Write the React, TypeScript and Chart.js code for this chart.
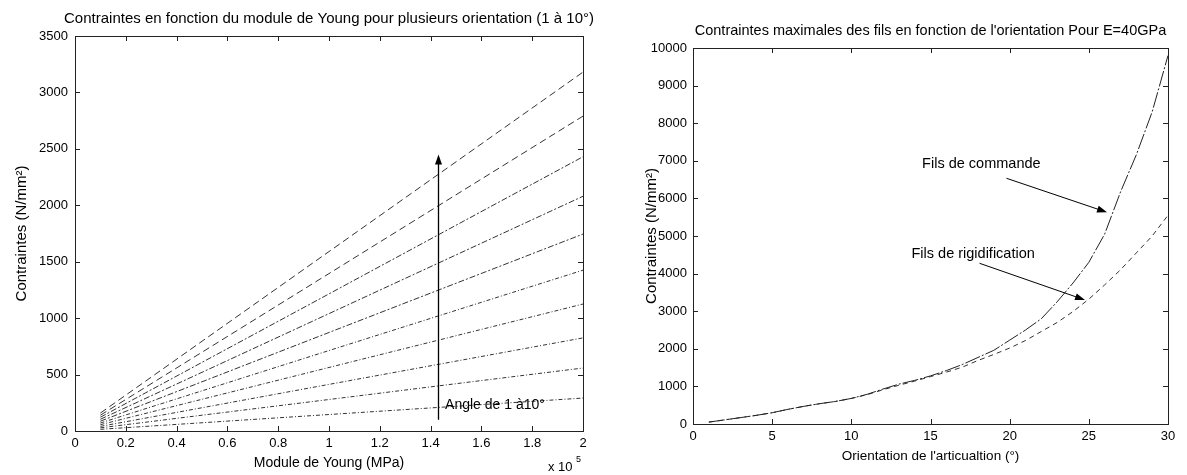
import React, { useEffect, useRef } from "react";
import { Chart, registerables } from "chart.js";

Chart.register(...registerables);

const FONT = '"Liberation Sans", Arial, Helvetica, sans-serif';

// ---------- Left chart data ----------
const youngModulus = [10000, 50000, 100000, 150000, 200000];
const angleLabels = ["1°", "2°", "3°", "4°", "5°", "6°", "7°", "8°", "9°", "10°"];
const stressAngle1 = [15, 73, 146, 219, 292];
const stressAngle2 = [28, 140, 279, 419, 558];
const stressAngle3 = [41, 206, 413, 619, 825];
const stressAngle4 = [56, 281, 563, 844, 1125];
const stressAngle5 = [71, 356, 713, 1069, 1425];
const stressAngle6 = [87, 436, 873, 1309, 1745];
const stressAngle7 = [104, 520, 1040, 1560, 2080];
const stressAngle8 = [122, 608, 1215, 1823, 2430];
const stressAngle9 = [140, 698, 1395, 2093, 2790];
const stressAngle10 = [159, 795, 1590, 2385, 3180];
const leftYTicks = [0, 500, 1000, 1500, 2000, 2500, 3000, 3500];
const leftXTickLabels = ["0", "0.2", "0.4", "0.6", "0.8", "1", "1.2", "1.4", "1.6", "1.8", "2"];

// ---------- Right chart data ----------
const orientationDeg = [1, 2, 3, 4, 5, 6, 7, 8, 9, 10, 11, 12, 13, 14, 15, 16, 17, 18, 19, 20, 21, 22, 23, 24, 25, 26, 27, 28, 29, 30];
const filsCommande = [50, 110, 170, 230, 300, 390, 470, 540, 600, 680, 790, 930, 1060, 1160, 1280, 1420, 1580, 1770, 1960, 2230, 2500, 2800, 3250, 3750, 4300, 5050, 6170, 7160, 8300, 9800];
const filsRigidification = [50, 110, 170, 230, 300, 390, 470, 540, 600, 680, 780, 910, 1030, 1140, 1260, 1380, 1510, 1690, 1850, 2020, 2220, 2460, 2700, 2990, 3320, 3700, 4100, 4550, 5000, 5550];
const rightYTicks = [0, 1000, 2000, 3000, 4000, 5000, 6000, 7000, 8000, 9000, 10000];
const rightXTicks = [0, 5, 10, 15, 20, 25, 30];

// ---------- Annotations (data coordinates) ----------
const angleArrow = { x: 143000, yFrom: 100, yTo: 2450 };
const angleText = { x: 145700, y: 230, text: "Angle de 1 à10°" };
const commandeText = { x: 14.47, y: 6915, text: "Fils de commande" };
const commandeArrow = { x1: 19.8, y1: 6535, x2: 26.15, y2: 5630 };
const rigidText = { x: 13.8, y: 4521, text: "Fils de rigidification" };
const rigidArrow = { x1: 18.1, y1: 4274, x2: 24.76, y2: 3298 };

const leftSeries = [stressAngle1, stressAngle2, stressAngle3, stressAngle4, stressAngle5, stressAngle6, stressAngle7, stressAngle8, stressAngle9, stressAngle10];

function drawArrow(ctx: CanvasRenderingContext2D, x1: number, y1: number, x2: number, y2: number, lw: number) {
  const ang = Math.atan2(y2 - y1, x2 - x1);
  const hl = 10;
  const hw = 3.5;
  ctx.save();
  ctx.strokeStyle = "#000";
  ctx.fillStyle = "#000";
  ctx.lineWidth = lw;
  ctx.beginPath();
  ctx.moveTo(x1, y1);
  ctx.lineTo(x2 - Math.cos(ang) * hl * 0.8, y2 - Math.sin(ang) * hl * 0.8);
  ctx.stroke();
  ctx.beginPath();
  ctx.moveTo(x2, y2);
  ctx.lineTo(x2 - Math.cos(ang) * hl - Math.sin(ang) * hw, y2 - Math.sin(ang) * hl + Math.cos(ang) * hw);
  ctx.lineTo(x2 - Math.cos(ang) * hl + Math.sin(ang) * hw, y2 - Math.sin(ang) * hl - Math.cos(ang) * hw);
  ctx.closePath();
  ctx.fill();
  ctx.restore();
}

function makeOverlay(title: string, titleSize: number, xTitle: string, xTitleSize: number, yTitle: string, extra: (chart: any, ctx: CanvasRenderingContext2D) => void) {
  return {
    id: "overlay",
    afterDraw(chart: any) {
      const ctx: CanvasRenderingContext2D = chart.ctx;
      const a = chart.chartArea;
      const xs = chart.scales.x;
      const ys = chart.scales.y;
      ctx.save();
      ctx.strokeStyle = "#222";
      ctx.lineWidth = 1;
      ctx.strokeRect(Math.round(a.left) + 0.5, Math.round(a.top) + 0.5, Math.round(a.right - a.left), Math.round(a.bottom - a.top));
      ctx.beginPath();
      const tl = 5;
      xs.ticks.forEach((t: any) => {
        const px = Math.round(xs.getPixelForValue(t.value)) + 0.5;
        ctx.moveTo(px, a.bottom);
        ctx.lineTo(px, a.bottom - tl);
        ctx.moveTo(px, a.top);
        ctx.lineTo(px, a.top + tl);
      });
      ys.ticks.forEach((t: any) => {
        const py = Math.round(ys.getPixelForValue(t.value)) + 0.5;
        ctx.moveTo(a.left, py);
        ctx.lineTo(a.left + tl, py);
        ctx.moveTo(a.right, py);
        ctx.lineTo(a.right - tl, py);
      });
      ctx.stroke();

      ctx.fillStyle = "#000";
      ctx.textAlign = "center";
      ctx.textBaseline = "middle";
      const cx = (a.left + a.right) / 2;
      const cy = (a.top + a.bottom) / 2;
      ctx.font = `${titleSize}px ${FONT}`;
      ctx.fillText(title, cx, a.top - 17);
      ctx.font = `${xTitleSize}px ${FONT}`;
      ctx.fillText(xTitle, cx, a.bottom + 32);
      ctx.save();
      ctx.font = `15px ${FONT}`;
      ctx.translate(chart.options.yTitleX, cy);
      ctx.rotate(-Math.PI / 2);
      ctx.fillText(yTitle, 0, 0);
      ctx.restore();
      extra(chart, ctx);
      ctx.restore();
    },
  };
}

function LeftChart() {
  const ref = useRef<HTMLCanvasElement>(null);
  useEffect(() => {
    if (!ref.current) return;
    const dashes = [[4, 2, 1, 2], [4, 2, 1, 2], [4, 2, 1, 2], [4, 2, 1, 2], [4, 2, 1, 2], [6, 2, 2, 2], [6, 2, 2, 2], [6, 2, 2, 2], [7, 4], [7, 4]];
    const overlay = makeOverlay(
      "Contraintes en fonction du module de Young pour plusieurs orientation (1 à 10°)",
      15,
      "Module de Young (MPa)",
      14,
      "Contraintes (N/mm²)",
      (chart, ctx) => {
        const xs = chart.scales.x;
        const ys = chart.scales.y;
        const ax = Math.round(xs.getPixelForValue(angleArrow.x)) + 0.5;
        drawArrow(ctx, ax, ys.getPixelForValue(angleArrow.yFrom), ax, ys.getPixelForValue(angleArrow.yTo), 1.3);
        ctx.font = `14px ${FONT}`;
        ctx.textAlign = "left";
        ctx.textBaseline = "middle";
        ctx.fillStyle = "#000";
        ctx.fillText(angleText.text, xs.getPixelForValue(angleText.x), ys.getPixelForValue(angleText.y));
        const a = chart.chartArea;
        ctx.font = `13px ${FONT}`;
        ctx.fillText("x 10", a.right - 35, a.bottom + 36);
        ctx.font = `9px ${FONT}`;
        ctx.fillText("5", a.right - 7, a.bottom + 29);
      }
    );
    const chart = new Chart(ref.current, {
      type: "scatter",
      data: {
        datasets: leftSeries.map((s, i) => ({
          label: angleLabels[i],
          data: s.map((v, j) => ({ x: youngModulus[j], y: v })),
          showLine: true,
          pointRadius: 0,
          borderColor: "#333",
          borderWidth: 1,
          borderDash: dashes[i],
          fill: false,
        })),
      },
      options: {
        responsive: false,
        animation: false,
        yTitleX: 22,
        layout: { padding: { left: 0, right: 12, top: 36, bottom: 0 } },
        plugins: { legend: { display: false }, tooltip: { enabled: false }, title: { display: false } },
        scales: {
          x: {
            type: "linear",
            min: 0,
            max: 200000,
            grid: { display: false, drawTicks: false },
            border: { display: false },
            afterBuildTicks: (s: any) => {
              s.ticks = leftXTickLabels.map((_, i) => ({ value: i * 20000 }));
            },
            ticks: {
              padding: 5,
              color: "#000",
              font: { family: FONT, size: 13 },
              maxRotation: 0,
              callback: (v: any, i: number) => leftXTickLabels[i],
            },
            afterFit: (s: any) => {
              s.height = 44;
            },
          },
          y: {
            type: "linear",
            min: 0,
            max: 3500,
            grid: { display: false, drawTicks: false },
            border: { display: false },
            afterBuildTicks: (s: any) => {
              s.ticks = leftYTicks.map((v) => ({ value: v }));
            },
            ticks: { padding: 7, color: "#000", font: { family: FONT, size: 13 }, callback: (v: any) => String(v) },
            afterFit: (s: any) => {
              s.width = 75;
            },
          },
        },
      } as any,
      plugins: [overlay as any],
    });
    return () => chart.destroy();
  }, []);
  return <canvas ref={ref} width={595} height={475} style={{ position: "absolute", left: 0, top: 0, width: 595, height: 475 }} />;
}

function RightChart() {
  const ref = useRef<HTMLCanvasElement>(null);
  useEffect(() => {
    if (!ref.current) return;
    const overlay = makeOverlay(
      "Contraintes maximales des fils en fonction de l'orientation Pour E=40GPa",
      14.5,
      "Orientation de l'articualtion (°)",
      13.5,
      "Contraintes (N/mm²)",
      (chart, ctx) => {
        const xs = chart.scales.x;
        const ys = chart.scales.y;
        ctx.font = `14.5px ${FONT}`;
        ctx.textAlign = "left";
        ctx.textBaseline = "middle";
        ctx.fillStyle = "#000";
        ctx.fillText(commandeText.text, xs.getPixelForValue(commandeText.x), ys.getPixelForValue(commandeText.y));
        ctx.fillText(rigidText.text, xs.getPixelForValue(rigidText.x), ys.getPixelForValue(rigidText.y));
        drawArrow(ctx, xs.getPixelForValue(commandeArrow.x1), ys.getPixelForValue(commandeArrow.y1), xs.getPixelForValue(commandeArrow.x2), ys.getPixelForValue(commandeArrow.y2), 1);
        drawArrow(ctx, xs.getPixelForValue(rigidArrow.x1), ys.getPixelForValue(rigidArrow.y1), xs.getPixelForValue(rigidArrow.x2), ys.getPixelForValue(rigidArrow.y2), 1);
      }
    );
    const chart = new Chart(ref.current, {
      type: "scatter",
      data: {
        datasets: [
          {
            label: "Fils de commande",
            data: orientationDeg.map((x, i) => ({ x, y: filsCommande[i] })),
            showLine: true,
            pointRadius: 0,
            borderColor: "#222",
            borderWidth: 1,
            borderDash: [16, 2, 2, 2],
          },
          {
            label: "Fils de rigidification",
            data: orientationDeg.map((x, i) => ({ x, y: filsRigidification[i] })),
            showLine: true,
            pointRadius: 0,
            borderColor: "#333",
            borderWidth: 1,
            borderDash: [5, 4],
          },
        ],
      },
      options: {
        responsive: false,
        animation: false,
        yTitleX: 57,
        layout: { padding: { left: 0, right: 19, top: 48, bottom: 0 } },
        plugins: { legend: { display: false }, tooltip: { enabled: false }, title: { display: false } },
        scales: {
          x: {
            type: "linear",
            min: 0,
            max: 30,
            grid: { display: false, drawTicks: false },
            border: { display: false },
            afterBuildTicks: (s: any) => {
              s.ticks = rightXTicks.map((v) => ({ value: v }));
            },
            ticks: { padding: 5, color: "#000", font: { family: FONT, size: 13 }, maxRotation: 0 },
            afterFit: (s: any) => {
              s.height = 51;
            },
          },
          y: {
            type: "linear",
            min: 0,
            max: 10000,
            grid: { display: false, drawTicks: false },
            border: { display: false },
            afterBuildTicks: (s: any) => {
              s.ticks = rightYTicks.map((v) => ({ value: v }));
            },
            ticks: { padding: 6, color: "#000", font: { family: FONT, size: 13 }, callback: (v: any) => String(v) },
            afterFit: (s: any) => {
              s.width = 98;
            },
          },
        },
      } as any,
      plugins: [overlay as any],
    });
    return () => chart.destroy();
  }, []);
  return <canvas ref={ref} width={592} height={475} style={{ position: "absolute", left: 595, top: 0, width: 592, height: 475 }} />;
}

export default function App() {
  return (
    <div style={{ position: "absolute", left: 0, top: 0, width: 1187, height: 475, background: "#fff", overflow: "hidden" }}>
      <LeftChart />
      <RightChart />
    </div>
  );
}
